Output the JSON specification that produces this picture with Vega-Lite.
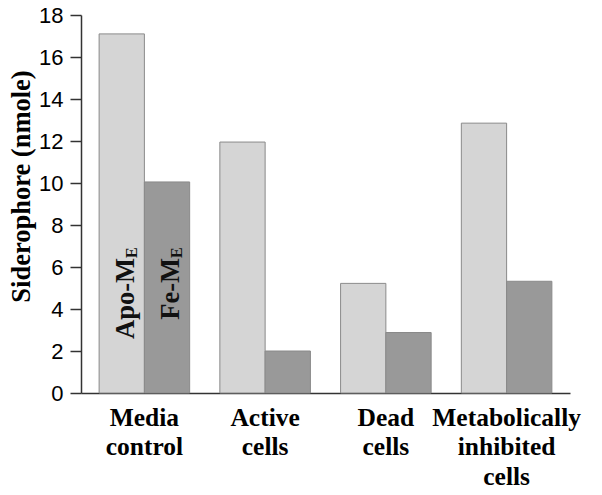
{
  "$schema": "https://vega.github.io/schema/vega-lite/v6.json",
  "autosize": {"type": "none"},
  "padding": {"left": 81, "top": 15, "right": 32, "bottom": 102},
  "width": 489,
  "height": 378,
  "background": "white",
  "config": {
    "view": {"stroke": null},
    "font": "Liberation Serif",
    "axis": {"labelFont": "Liberation Serif", "titleFont": "Liberation Serif"},
    "axisY": {"labelFont": "Liberation Sans"}
  },
  "datasets": {
    "bars": [
      {"group": "Media control", "series": "Apo-ME", "value": 17.1},
      {"group": "Media control", "series": "Fe-ME", "value": 10.05},
      {"group": "Active cells", "series": "Apo-ME", "value": 11.95},
      {"group": "Active cells", "series": "Fe-ME", "value": 2.0},
      {"group": "Dead cells", "series": "Apo-ME", "value": 5.22},
      {"group": "Dead cells", "series": "Fe-ME", "value": 2.88},
      {"group": "Metabolically inhibited cells", "series": "Apo-ME", "value": 12.85},
      {"group": "Metabolically inhibited cells", "series": "Fe-ME", "value": 5.32}
    ],
    "labels": [
      {"group": "Media control", "series": "Apo-ME", "pos": 6.43, "part": "main", "text": "Apo-M"},
      {"group": "Media control", "series": "Apo-ME", "pos": 6.43, "part": "sub", "text": "E"},
      {"group": "Media control", "series": "Fe-ME", "pos": 6.43, "part": "main", "text": "Fe-M"},
      {"group": "Media control", "series": "Fe-ME", "pos": 6.43, "part": "sub", "text": "E"}
    ]
  },
  "encoding": {
    "x": {
      "field": "group",
      "type": "nominal",
      "sort": ["Media control", "Active cells", "Dead cells", "Metabolically inhibited cells"],
      "scale": {"paddingInner": 0.25, "paddingOuter": 0.15},
      "axis": {
        "title": null,
        "labelAngle": 0,
        "ticks": false,
        "domainColor": "#333333",
        "domainWidth": 1.5,
        "labelFont": "Liberation Serif",
        "labelFontWeight": "bold",
        "labelFontSize": 25.5,
        "labelColor": "black",
        "labelPadding": 12,
        "labelLineHeight": 29.5,
        "labelExpr": "datum.value == 'Media control' ? ['Media', 'control'] : datum.value == 'Active cells' ? ['Active', 'cells'] : datum.value == 'Dead cells' ? ['Dead', 'cells'] : ['Metabolically', 'inhibited', 'cells']"
      }
    },
    "xOffset": {"field": "series", "type": "nominal", "sort": ["Apo-ME", "Fe-ME"], "scale": {"paddingInner": 0, "paddingOuter": 0}}
  },
  "layer": [
    {
      "data": {"name": "bars"},
      "mark": {"type": "bar", "stroke": "#8a8a8a", "strokeWidth": 1},
      "encoding": {
        "y": {
          "field": "value",
          "type": "quantitative",
          "scale": {"domain": [0, 18], "nice": false},
          "axis": {
            "title": "Siderophore (nmole)",
            "titleFont": "Liberation Serif",
            "titleFontWeight": "bold",
            "titleFontSize": 26.5,
            "titleColor": "black",
            "titleAngle": 270,
            "titleX": -60,
            "titleY": 171,
            "titleAlign": "center",
            "titleBaseline": "middle",
            "values": [0, 2, 4, 6, 8, 10, 12, 14, 16, 18],
            "grid": false,
            "domainColor": "#333333",
            "domainWidth": 1.5,
            "tickColor": "#333333",
            "tickWidth": 1.5,
            "tickSize": 11,
            "labelFont": "Liberation Sans",
            "labelFontSize": 22,
            "labelColor": "black",
            "labelPadding": 7
          }
        },
        "color": {
          "field": "series",
          "type": "nominal",
          "scale": {"domain": ["Apo-ME", "Fe-ME"], "range": ["#d5d5d5", "#999999"]},
          "legend": null
        }
      }
    },
    {
      "data": {"name": "labels"},
      "transform": [{"filter": "datum.part == 'main'"}],
      "mark": {"type": "text", "angle": 270, "align": "right", "baseline": "alphabetic", "dy": 12, "font": "Liberation Serif", "fontWeight": "bold", "fontSize": 26.5, "color": "#111111"},
      "encoding": {
        "y": {"field": "pos", "type": "quantitative"},
        "text": {"field": "text"}
      }
    },
    {
      "data": {"name": "labels"},
      "transform": [{"filter": "datum.part == 'sub'"}],
      "mark": {"type": "text", "angle": 270, "align": "left", "baseline": "alphabetic", "dy": 15, "font": "Liberation Serif", "fontWeight": "bold", "fontSize": 16, "color": "#111111"},
      "encoding": {
        "y": {"field": "pos", "type": "quantitative"},
        "text": {"field": "text"}
      }
    }
  ]
}
